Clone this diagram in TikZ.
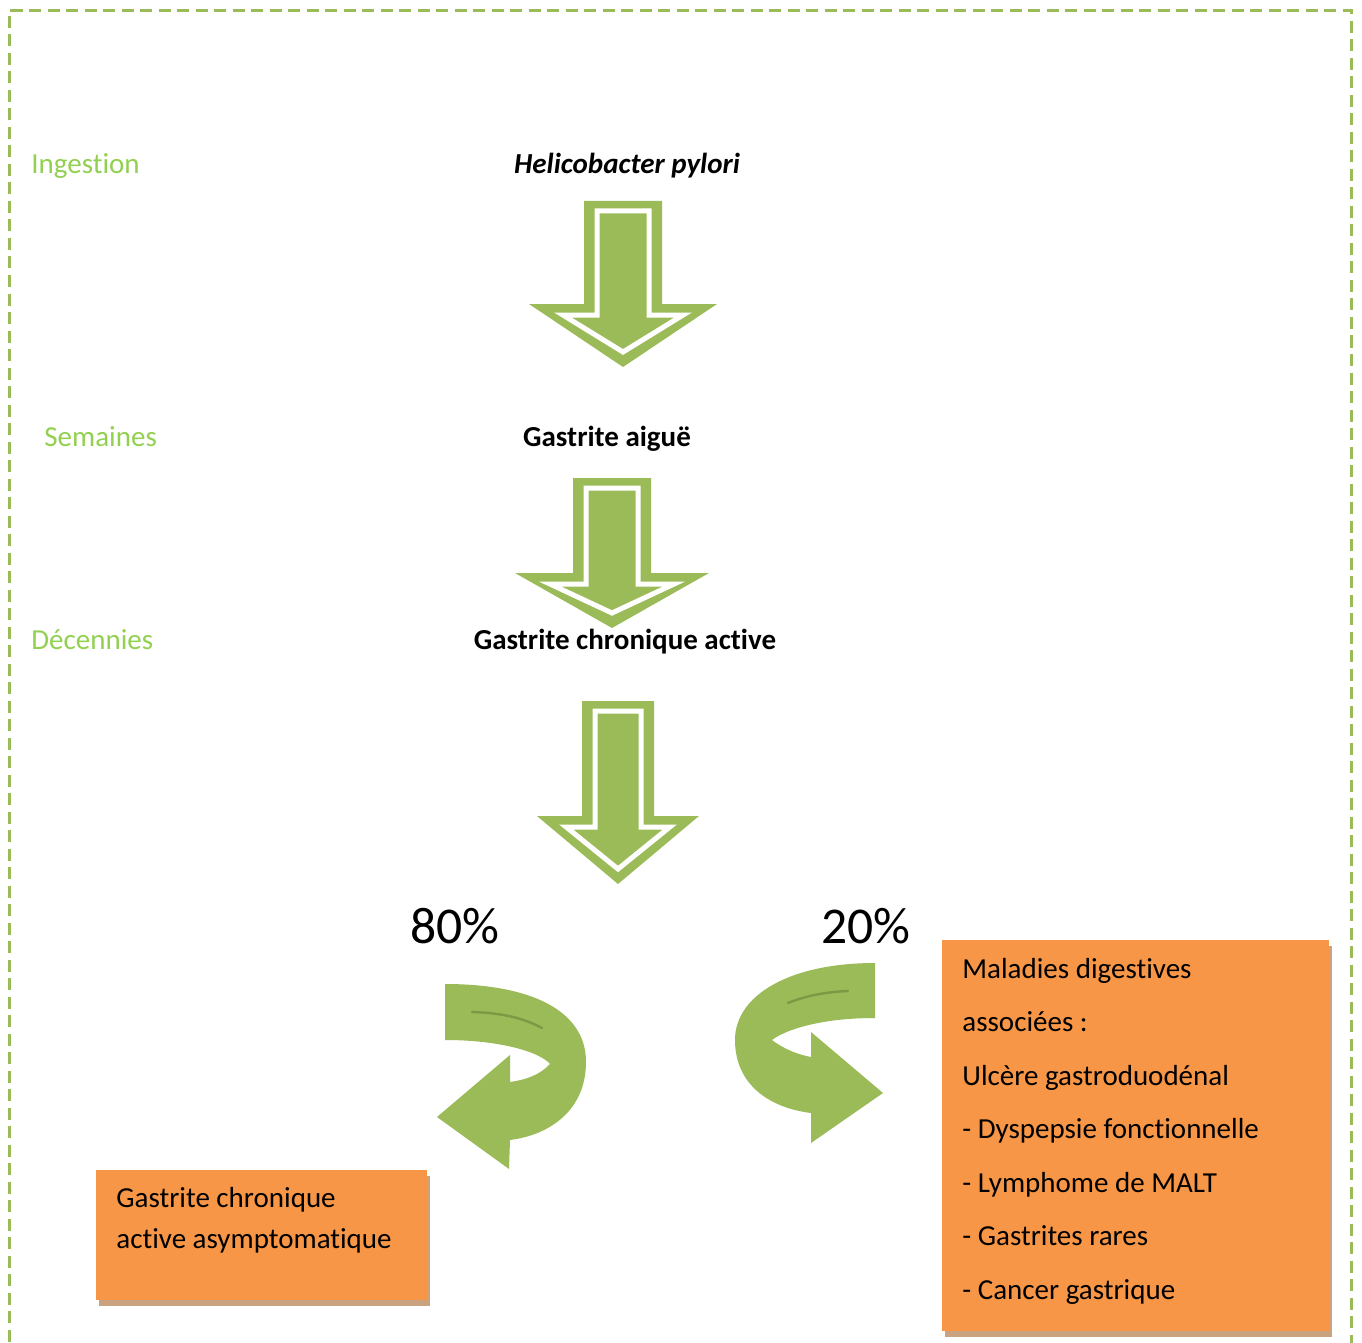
\documentclass[tikz,border=0pt]{standalone}
\usepackage{fontspec}
\setmainfont{Carlito}[
  Ligatures={NoCommon,NoRequired,NoContextual},
  Contextuals={NoAlternate},
  RawFeature={-liga;-dlig;-clig}
]
\usepackage{xcolor}
\usepackage{tikz}
\usetikzlibrary{
  positioning,
  shadows
}

\definecolor{arrowgreen}{HTML}{9BBB59}
\definecolor{labelgreen}{HTML}{92D050}
\definecolor{glossgreen}{HTML}{7A9A44}
\definecolor{boxorange}{HTML}{F79646}
\definecolor{shadowtan}{HTML}{C9A27F}

% block arrow: centre x, top, head base, tip, shaft half width, head half width
\newcommand{\stagearrow}[6]{%
  \fill[arrowgreen] ({#1-#5},#2) -- ({#1+#5},#2) -- ({#1+#5},#3) -- ({#1+#6},#3)
    -- (#1,#4) -- ({#1-#6},#3) -- ({#1-#5},#3) -- cycle;
  \draw[white, line width=2.5pt, line join=miter]
    ({#1-#5+13},{#2+10}) -- ({#1+#5-13},{#2+10}) -- ({#1+#5-13},{#3+11})
    -- ({#1+0.64*#6},{#3+11}) -- (#1,{#4-15}) -- ({#1-0.64*#6},{#3+11})
    -- ({#1-#5+13},{#3+11}) -- cycle;
}

\begin{document}
\begin{tikzpicture}[
  x=0.5pt, y=-0.5pt,
  steplabel/.style={
    text=labelgreen, font=\fontsize{14.5}{17}\selectfont, anchor=base west, inner sep=0pt
  },
  stagetext/.style={
    font=\fontsize{14.5}{17}\selectfont\bfseries, anchor=base, inner sep=0pt
  },
  pcttext/.style={font=\fontsize{25.8}{30}\selectfont, anchor=base, inner sep=0pt},
  orangebox/.style={
    fill=boxorange, draw=none, anchor=north west, inner sep=0pt,
    drop shadow={shadow xshift=1.5pt, shadow yshift=-3pt, fill=shadowtan, opacity=1}
  },
  boxtext/.style={align=left, anchor=base west, inner sep=0pt},
  framedash/.style={draw=arrowgreen, line width=1.5pt, dash pattern=on 6pt off 3.25pt}
]
  \useasboundingbox (0,0) rectangle (1362,1343);

  \draw[framedash] (9,1360) -- (9,11) -- (1351,11) -- (1351,1360);

  % time scale
  \node[steplabel] (ingestion) at (31,174)  {Ingestion};
  \node[steplabel] (semaines)  at (44,446)  {Semaines};
  \node[steplabel] (decennies) at (31,649)  {Décennies};

  % stages and block arrows
  \stagearrow{623}{201}{304}{367}{39}{94}
  \stagearrow{612}{478}{573}{628}{39}{97}
  \stagearrow{618}{701}{816}{884}{36}{81}

  \node[stagetext] (hp)      at (627,174) {\itshape Helicobacter pylori};
  \node[stagetext] (aigue)   at (607,446) {Gastrite aiguë};
  \node[stagetext] (chronic) at (625,649) {Gastrite chronique active};

  \node[pcttext] (p80) at (455,943) {80\%};
  \node[pcttext] (p20) at (866,943) {20\%};

  % turning arrows
  \fill[arrowgreen] (445,984) .. controls (530,984) and (586,1010) .. (586,1062)
    .. controls (586,1110) and (550,1135) .. (510,1140) -- (509,1169) -- (437,1117)
    -- (510,1055) -- (510,1082) .. controls (525,1080) and (540,1075) .. (550,1064)
    .. controls (540,1052) and (500,1040) .. (445,1040) -- cycle;
  \draw[glossgreen, line width=1.2pt, line cap=round]
    (472,1012) .. controls (505,1013) and (525,1019) .. (542,1028);

  \fill[arrowgreen] (875,963) .. controls (790,963) and (735,995) .. (735,1040)
    .. controls (735,1085) and (770,1108) .. (811,1113) -- (811,1143) -- (883,1093)
    -- (811,1032) -- (811,1057) .. controls (800,1055) and (785,1050) .. (772,1040)
    .. controls (785,1030) and (820,1018) .. (875,1018) -- cycle;
  \draw[glossgreen, line width=1.2pt, line cap=round]
    (788,1003) .. controls (805,996) and (825,992) .. (848,991);

  % outcome boxes
  \node[orangebox, minimum width=165.5pt, minimum height=65pt] (asymbox) at (96,1170) {};
  \node[boxtext, font=\fontsize{14.5}{20.5}\selectfont] (asymtext) at (116,1248)
    {Gastrite chronique\\active asymptomatique};

  \node[orangebox, minimum width=193.5pt, minimum height=195.5pt] (malbox) at (942,940) {};
  \node[boxtext, font=\fontsize{14.5}{26.75}\selectfont] (maltext) at (962,1299)
    {Maladies digestives\\associées :\\Ulcère gastroduodénal\\- Dyspepsie fonctionnelle\\
     - Lymphome de MALT\\- Gastrites rares\\- Cancer gastrique};
\end{tikzpicture}
\end{document}
